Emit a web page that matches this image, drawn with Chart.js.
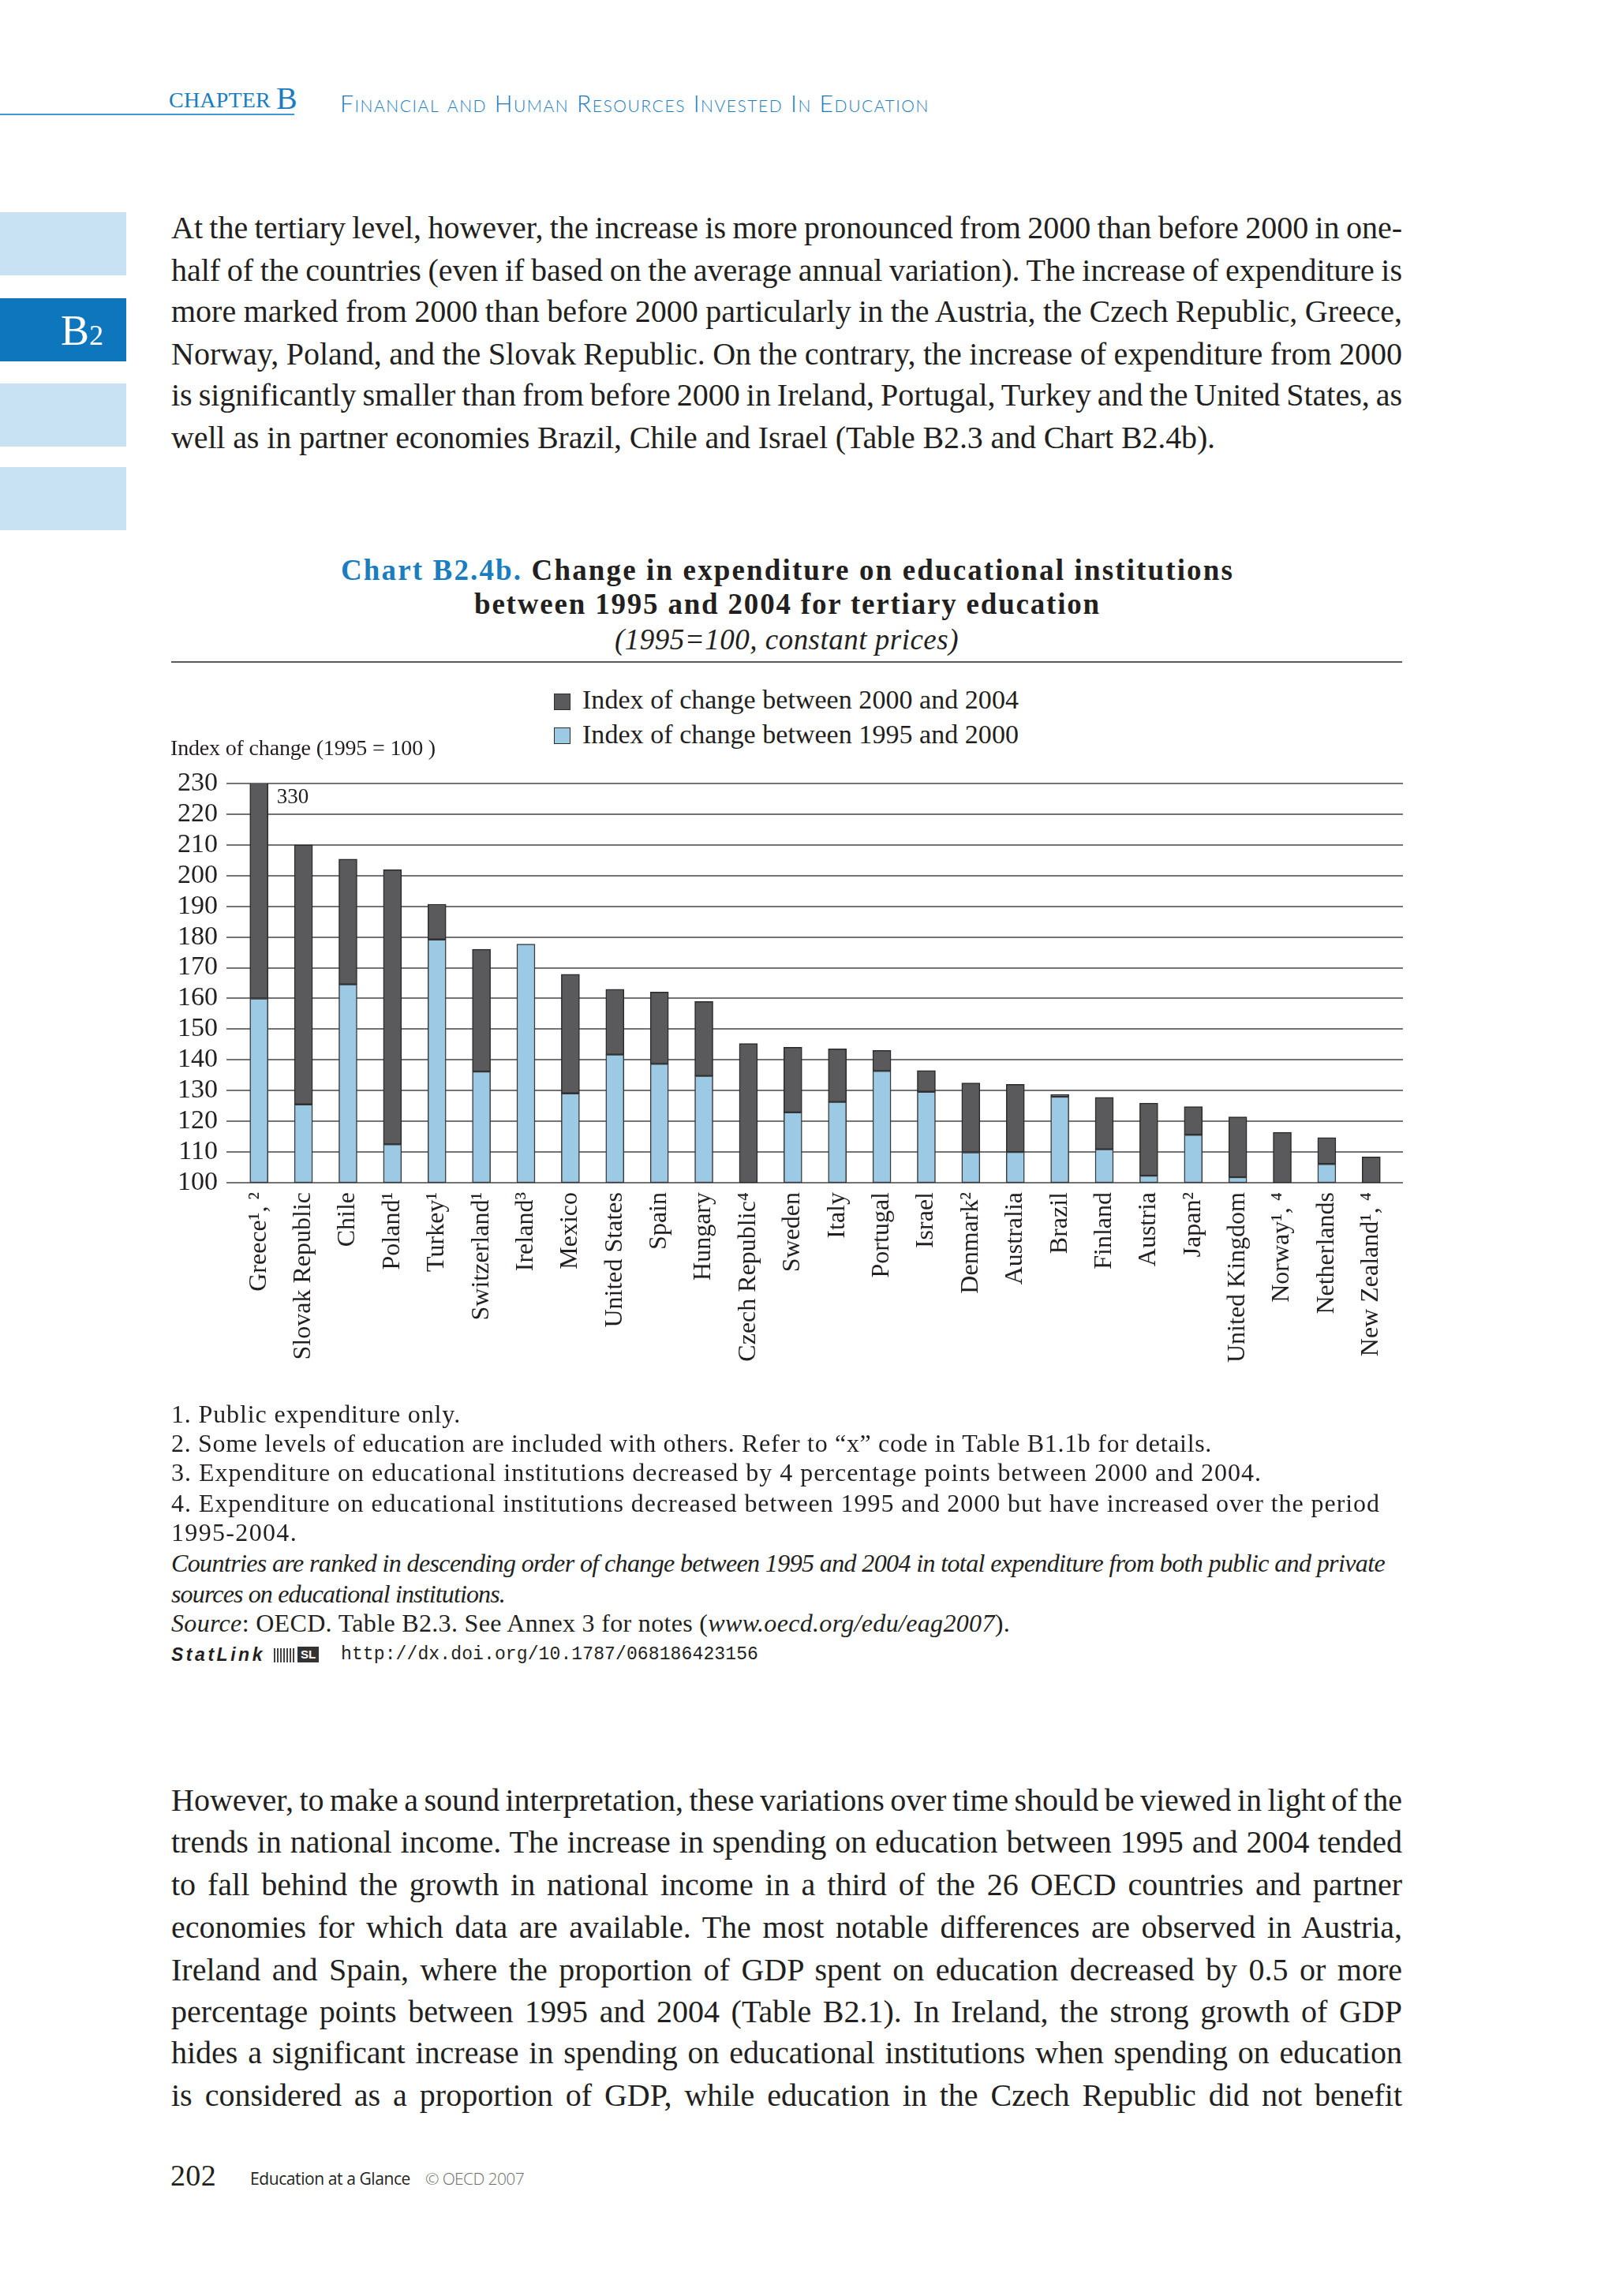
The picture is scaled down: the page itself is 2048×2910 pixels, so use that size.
<!DOCTYPE html>
<html>
<head>
<meta charset="utf-8">
<script src="https://cdn.jsdelivr.net/npm/chart.js@4.4.1/dist/chart.umd.min.js"></script>
<style>
  html,body{margin:0;padding:0;background:#fff;}
  body{width:2048px;height:2910px;position:relative;overflow:hidden;font-family:"Liberation Serif",serif;color:#231f20;}
  .a{position:absolute;white-space:nowrap;line-height:1.2;}
  .tab{position:absolute;left:0;width:160px;background:#c9e2f3;}
  .blue{color:#1a7dc0;}
  .sw{position:absolute;width:21px;height:21px;box-sizing:border-box;border:1.5px solid #2e2e2e;}
  #chartWrap{position:absolute;left:200px;top:960px;width:1600px;height:820px;}
  #chartWrap canvas{display:block;}
</style>
</head>
<body>
<!-- header -->
<div class="a blue" style="left:214px;top:110px;font-size:28px;" data-w="129">CHAPTER</div>
<div class="a blue" style="left:350px;top:101px;font-size:40px;">B</div>
<div style="position:absolute;left:0;top:144px;width:373px;height:2px;background:#3f98d3;"></div>
<div class="a blue" style="left:431px;top:112px;font-size:30px;font-family:Lato,sans-serif;font-weight:300;font-variant:small-caps;" data-w="747">Financial and Human Resources Invested In Education</div>

<!-- side tabs -->
<div class="tab" style="top:269px;height:80px;"></div>
<div class="tab" style="top:378px;height:80px;background:#0e76bc;"></div>
<div class="tab" style="top:486px;height:80px;"></div>
<div class="tab" style="top:592px;height:80px;"></div>
<div class="a" style="left:77px;top:387px;font-size:54px;color:#fff;">B<span style="font-size:36px;">2</span></div>

<!-- paragraph 1 -->
<div class="a" style="left:217px;top:265px;font-size:40px;" data-w="1560" data-j="1">At the tertiary level, however, the increase is more pronounced from 2000 than before 2000 in one-</div>
<div class="a" style="left:217px;top:319px;font-size:40px;" data-w="1560" data-j="1">half of the countries (even if based on the average annual variation). The increase of expenditure is</div>
<div class="a" style="left:217px;top:371px;font-size:40px;" data-w="1560" data-j="1">more marked from 2000 than before 2000 particularly in the Austria, the Czech Republic, Greece,</div>
<div class="a" style="left:217px;top:425px;font-size:40px;" data-w="1560" data-j="1">Norway, Poland, and the Slovak Republic. On the contrary, the increase of expenditure from 2000</div>
<div class="a" style="left:217px;top:477px;font-size:40px;" data-w="1560" data-j="1">is significantly smaller than from before 2000 in Ireland, Portugal, Turkey and the United States, as</div>
<div class="a" style="left:217px;top:531px;font-size:40px;" data-w="1323">well as in partner economies Brazil, Chile and Israel (Table B2.3 and Chart B2.4b).</div>

<!-- chart title -->
<div class="a" style="top:701px;font-size:37px;font-weight:bold;" data-w="1132" data-cx="998"><span class="blue">Chart B2.4b.</span> Change in expenditure on educational institutions</div>
<div class="a" style="top:744px;font-size:37px;font-weight:bold;" data-w="794" data-cx="998">between 1995 and 2004 for tertiary education</div>
<div class="a" style="top:789px;font-size:37px;font-style:italic;" data-w="436" data-cx="997">(1995=100, constant prices)</div>
<div style="position:absolute;left:217px;top:838px;width:1560px;height:2px;background:#5a5a5a;"></div>

<!-- legend -->
<div class="sw" style="left:702px;top:879px;background:#5a595c;"></div>
<div class="a" style="left:738px;top:867px;font-size:34px;" data-w="553">Index of change between 2000 and 2004</div>
<div class="sw" style="left:702px;top:922px;background:#9ccae5;"></div>
<div class="a" style="left:738px;top:911px;font-size:34px;" data-w="553">Index of change between 1995 and 2000</div>
<div class="a" style="left:216px;top:931px;font-size:28px;z-index:2;" data-w="336">Index of change (1995 = 100 )</div>

<div id="chartWrap"><canvas id="c" width="1600" height="820"></canvas></div>

<!-- notes -->
<div class="a" style="left:217px;top:1773px;font-size:32px;" data-w="367">1. Public expenditure only.</div>
<div class="a" style="left:217px;top:1810px;font-size:32px;" data-w="1319">2. Some levels of education are included with others. Refer to “x” code in Table B1.1b for details.</div>
<div class="a" style="left:217px;top:1847px;font-size:32px;" data-w="1382">3. Expenditure on educational institutions decreased by 4 percentage points between 2000 and 2004.</div>
<div class="a" style="left:217px;top:1886px;font-size:32px;" data-w="1532">4. Expenditure on educational institutions decreased between 1995 and 2000 but have increased over the period</div>
<div class="a" style="left:217px;top:1923px;font-size:32px;" data-w="160">1995-2004.</div>
<div class="a" style="left:217px;top:1962px;font-size:32px;font-style:italic;" data-w="1538">Countries are ranked in descending order of change between 1995 and 2004 in total expenditure from both public and private</div>
<div class="a" style="left:217px;top:2001px;font-size:32px;font-style:italic;" data-w="423">sources on educational institutions.</div>
<div class="a" style="left:217px;top:2038px;font-size:32px;" data-w="1063"><i>Source</i>: OECD. Table B2.3. See Annex 3 for notes (<i>www.oecd.org/edu/eag2007</i>).</div>
<div class="a" style="left:217px;top:2084px;font-size:23px;font-family:'Liberation Sans',sans-serif;font-weight:bold;font-style:italic;" data-w="119">StatLink</div>
<div style="position:absolute;left:347px;top:2089px;width:28px;height:18px;background:repeating-linear-gradient(90deg,#444 0 2px,#fff 2px 4px);"></div>
<div class="a" style="left:377px;top:2087px;font-size:15px;font-family:'Liberation Sans',sans-serif;font-weight:bold;color:#fff;background:#333;padding:0 4px;line-height:20px;">SL</div>
<div class="a" style="left:432px;top:2084px;font-size:23px;font-family:'Liberation Mono',monospace;" data-w="529">http://dx.doi.org/10.1787/068186423156</div>

<!-- paragraph 2 -->
<div class="a" style="left:217px;top:2258px;font-size:40px;" data-w="1560" data-j="1">However, to make a sound interpretation, these variations over time should be viewed in light of the</div>
<div class="a" style="left:217px;top:2311px;font-size:40px;" data-w="1560" data-j="1">trends in national income. The increase in spending on education between 1995 and 2004 tended</div>
<div class="a" style="left:217px;top:2365px;font-size:40px;" data-w="1560" data-j="1">to fall behind the growth in national income in a third of the 26 OECD countries and partner</div>
<div class="a" style="left:217px;top:2419px;font-size:40px;" data-w="1560" data-j="1">economies for which data are available. The most notable differences are observed in Austria,</div>
<div class="a" style="left:217px;top:2473px;font-size:40px;" data-w="1560" data-j="1">Ireland and Spain, where the proportion of GDP spent on education decreased by 0.5 or more</div>
<div class="a" style="left:217px;top:2526px;font-size:40px;" data-w="1560" data-j="1">percentage points between 1995 and 2004 (Table B2.1). In Ireland, the strong growth of GDP</div>
<div class="a" style="left:217px;top:2578px;font-size:40px;" data-w="1560" data-j="1">hides a significant increase in spending on educational institutions when spending on education</div>
<div class="a" style="left:217px;top:2632px;font-size:40px;" data-w="1560" data-j="1">is considered as a proportion of GDP, while education in the Czech Republic did not benefit</div>

<!-- footer -->
<div class="a" style="left:216px;top:2735px;font-size:38px;" data-w="58">202</div>
<div class="a" style="left:317px;top:2749px;font-size:21px;font-family:'Open Sans',sans-serif;" data-w="203">Education at a Glance</div>
<div class="a" style="left:539px;top:2749px;font-size:21px;font-family:'Open Sans',sans-serif;font-weight:300;color:#6d6d6d;" data-w="125">© OECD 2007</div>

<script>
// ---- data ----
const categories = ['Greece¹, ²', 'Slovak Republic', 'Chile', 'Poland¹', 'Turkey¹', 'Switzerland¹', 'Ireland³', 'Mexico', 'United States', 'Spain', 'Hungary', 'Czech Republic⁴', 'Sweden', 'Italy', 'Portugal', 'Israel', 'Denmark²', 'Australia', 'Brazil', 'Finland', 'Austria', 'Japan²', 'United Kingdom', 'Norway¹, ⁴', 'Netherlands', 'New Zealand¹, ⁴'];
const index2000 = [160, 125.5, 164.6, 112.5, 179.2, 136.2, 177.7, 129.1, 141.7, 138.7, 134.8, 95, 122.9, 126.3, 136.4, 129.6, 109.9, 110, 128, 110.9, 102.3, 115.6, 101.8, 96, 106.1, 94];
const index2004 = [330, 210, 205.4, 201.9, 190.7, 176, 174, 167.9, 163, 162.1, 159, 145.3, 144.1, 143.6, 143.1, 136.5, 132.5, 132, 128.7, 127.8, 125.9, 124.8, 121.4, 116.4, 114.7, 108.4];
const seriesLabels = ['Index of change between 1995 and 2000', 'Index of change between 2000 and 2004'];
const yMin = 100, yMax = 230, yStep = 10;

// text fitting
document.querySelectorAll('[data-w]').forEach(el => {
  const target = +el.dataset.w;
  const w = el.getBoundingClientRect().width;
  const diff = target - w;
  const txt = el.textContent;
  if (el.dataset.j) {
    const n = (txt.match(/ /g) || []).length;
    const ws = diff / n;
    if (ws < -3) el.style.letterSpacing = (diff / txt.length) + 'px';
    else el.style.wordSpacing = ws + 'px';
  } else {
    el.style.letterSpacing = (diff / txt.length) + 'px';
  }
  if (el.dataset.cx) el.style.left = (+el.dataset.cx - target / 2) + 'px';
});

const base = yMin;
const lightData = index2000.map(v => v > base ? [base, v] : null);
const darkData = index2000.map((v, i) => index2004[i] > v ? [Math.max(base, v), index2004[i]] : null);

const gridPlugin = {
  id: 'gridExt',
  beforeDatasetsDraw(chart) {
    const {ctx, chartArea, scales} = chart;
    ctx.save();
    ctx.strokeStyle = '#747474';
    ctx.lineWidth = 2;
    scales.y.ticks.forEach(t => {
      const y = Math.round(scales.y.getPixelForValue(t.value));
      ctx.beginPath();
      ctx.moveTo(chartArea.left - 13, y);
      ctx.lineTo(chartArea.right + 12, y);
      ctx.stroke();
    });
    ctx.restore();
  },
  afterDatasetsDraw(chart) {
    const {ctx, scales} = chart;
    const meta = chart.getDatasetMeta(1);
    index2004.forEach((v, i) => {
      if (v > yMax && meta.data[i]) {
        const el = meta.data[i];
        ctx.save();
        ctx.fillStyle = '#231f20';
        ctx.font = '27px "Liberation Serif"';
        ctx.textBaseline = 'middle';
        ctx.fillText(String(v), el.x + el.width / 2 + 11, scales.y.getPixelForValue(yMax) + 18);
        ctx.restore();
      }
    });
  }
};

new Chart(document.getElementById('c'), {
  type: 'bar',
  data: {
    labels: categories,
    datasets: [
      {label: seriesLabels[0], data: lightData, backgroundColor: '#9ccae5', borderColor: '#3a3a3a', borderWidth: 1.5, borderSkipped: false, barThickness: 23},
      {label: seriesLabels[1], data: darkData, backgroundColor: '#5a595c', borderColor: '#2a2a2a', borderWidth: 1.5, borderSkipped: false, barThickness: 23}
    ]
  },
  options: {
    responsive: false,
    devicePixelRatio: 1,
    animation: false,
    layout: {padding: {top: 33, right: 34, left: 0, bottom: 0}},
    plugins: {legend: {display: false}, tooltip: {enabled: false}},
    scales: {
      x: {
        stacked: true,
        grid: {display: false, drawTicks: false},
        border: {display: false},
        ticks: {autoSkip: false, maxRotation: 90, minRotation: 90, padding: 12, color: '#231f20', font: {family: 'Liberation Serif', size: 32}},
        afterFit(s) { s.height = 281; s.paddingLeft = 0; s.paddingRight = 0; }
      },
      y: {
        min: yMin, max: yMax,
        grid: {display: false, drawTicks: false},
        border: {display: false},
        ticks: {stepSize: yStep, autoSkip: false, padding: 24, color: '#231f20', font: {family: 'Liberation Serif', size: 34}},
        afterFit(s) { s.width = 100; s.paddingTop = 0; s.paddingBottom = 0; }
      }
    }
  },
  plugins: [gridPlugin]
});
</script>
</body>
</html>
